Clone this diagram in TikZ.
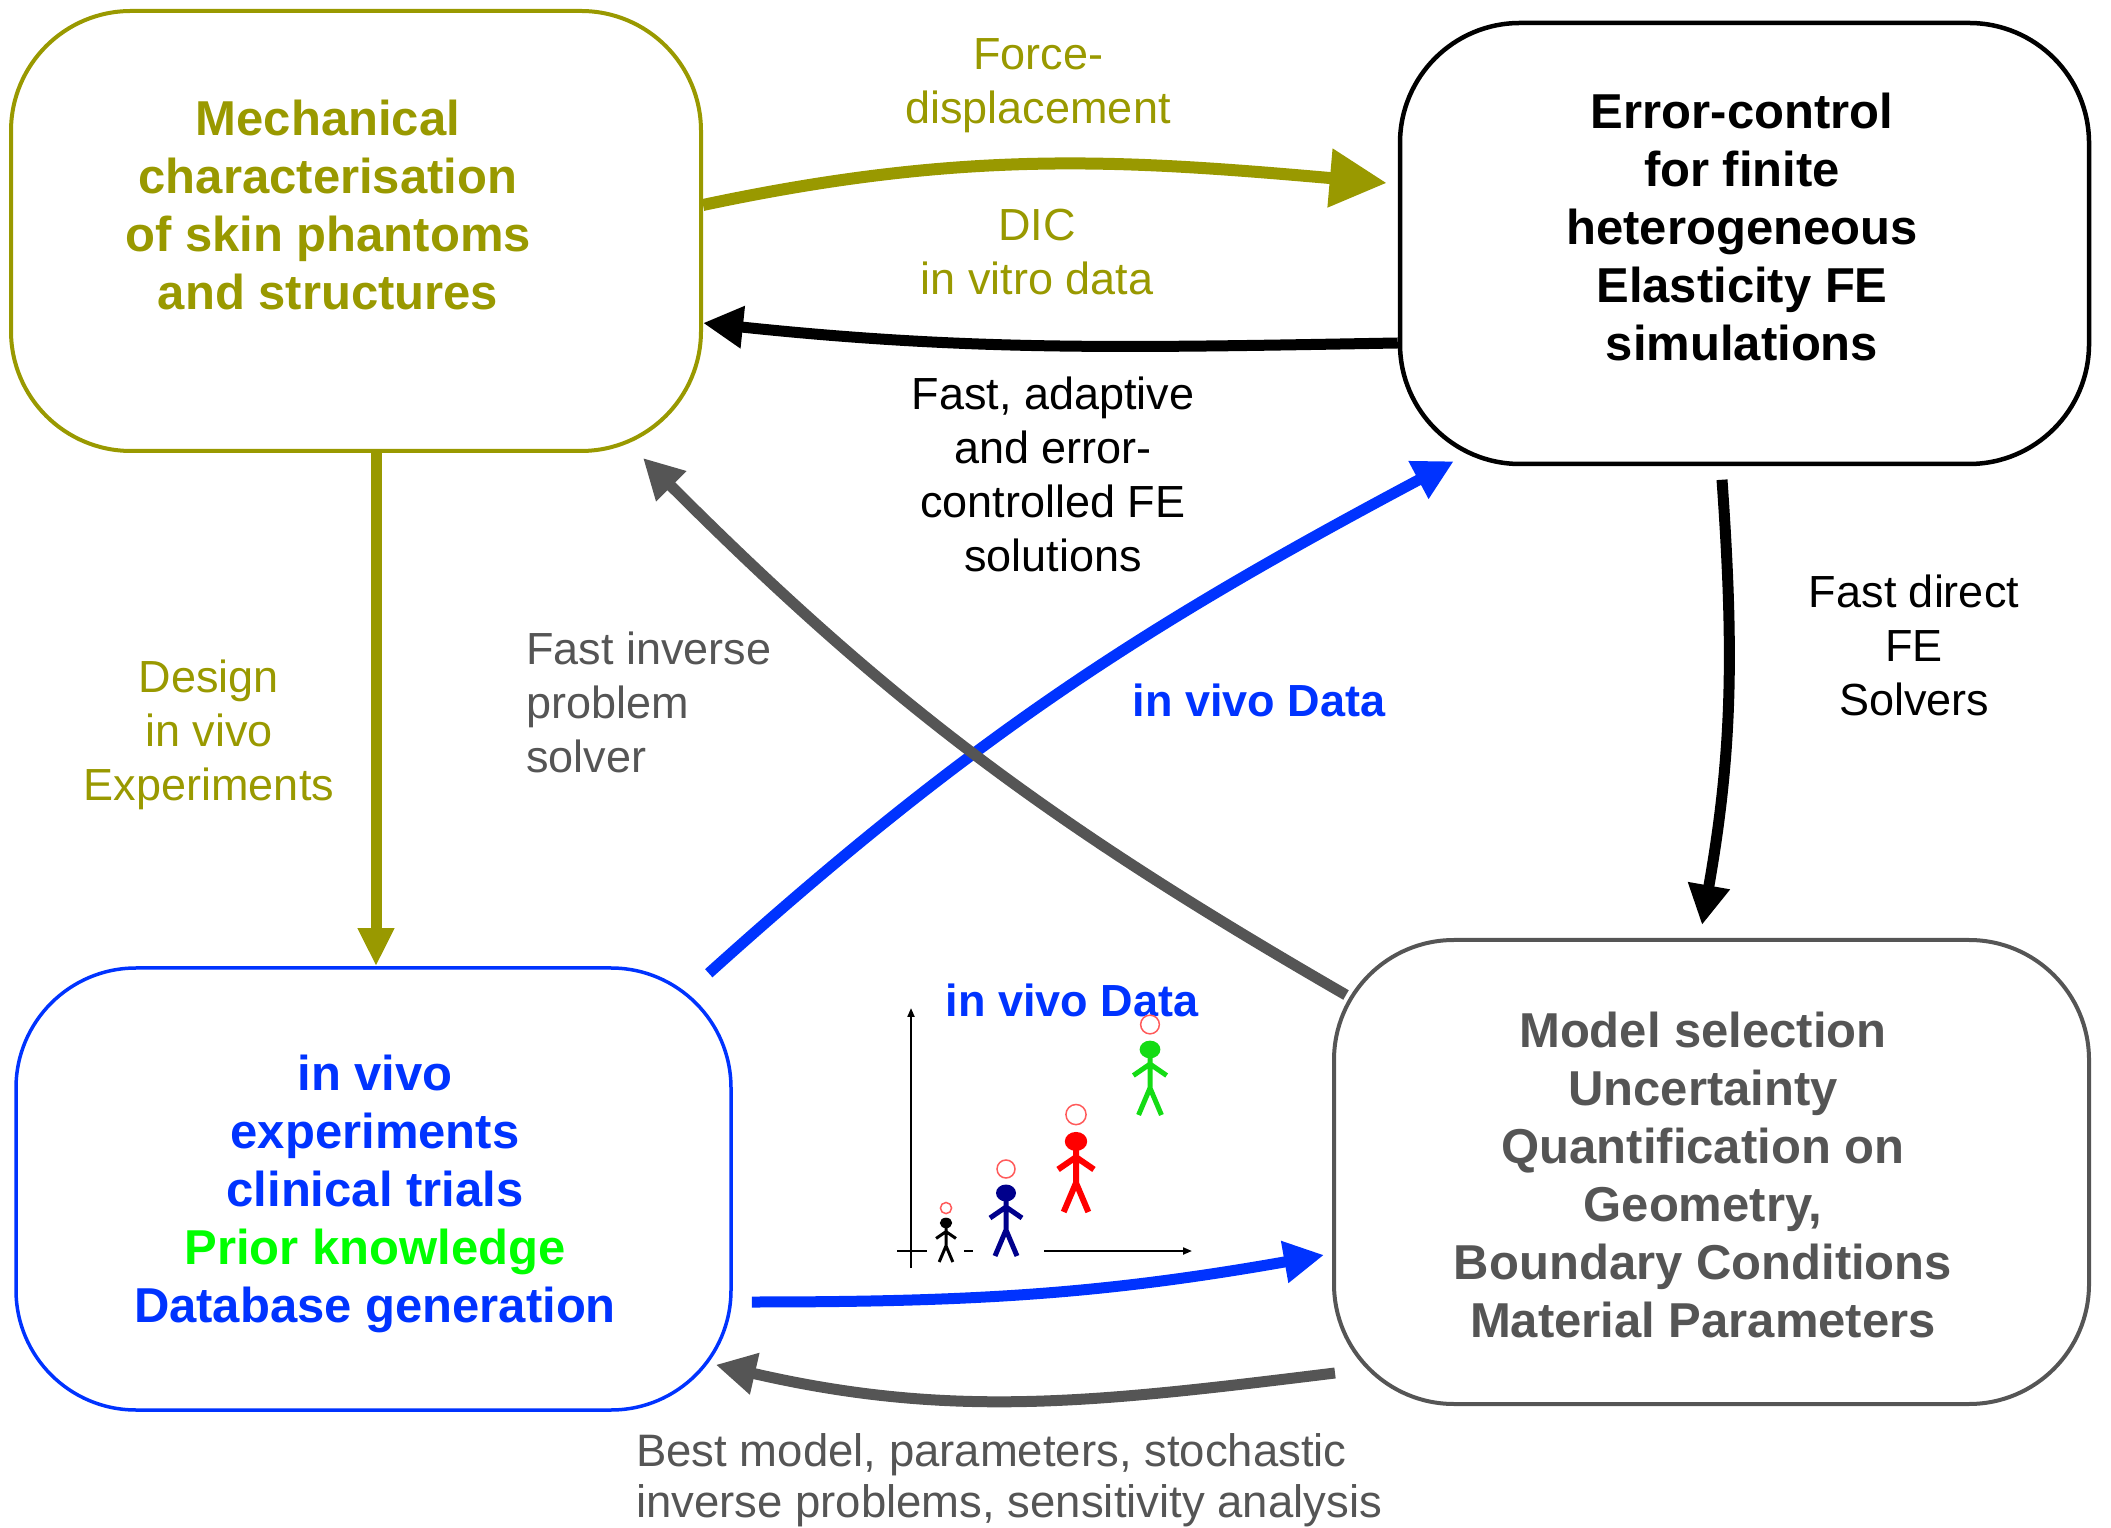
\documentclass[tikz,border=0pt]{standalone}
\usepackage{fontspec}
\setmainfont{Liberation Sans}
\usepackage{tikz}
\usetikzlibrary{arrows.meta}
\definecolor{mecholive}{RGB}{153,153,0}
\definecolor{vivoblue}{RGB}{0,51,255}
\definecolor{modelgrey}{RGB}{85,85,85}
\definecolor{priorgreen}{RGB}{0,255,0}
\definecolor{headnavy}{RGB}{0,0,140}
\definecolor{figgreen}{RGB}{20,220,20}
\definecolor{ringred}{RGB}{255,90,90}
% stick figure: feet x, feet y, scale, colour, line width
\newcommand{\stickfig}[5]{%
  \begin{scope}[shift={(#1,#2)}, scale=#3]
    \draw[#4, line width=#5] (-11,0) -- (0,26) -- (11,0) (0,26) -- (0,56)
      (-16,38) -- (0,49) -- (16,38);
    \fill[#4] (0,63) ellipse [x radius=10, y radius=8.5];
    \draw[ringred, line width=1.5pt] (0,87) circle [radius=9];
  \end{scope}}

\begin{document}
\begin{tikzpicture}[x=1pt, y=1pt,
  box/.style={rectangle, rounded corners=120pt, line width=4pt, inner sep=0pt},
  boxtext/.style={align=center, inner sep=0pt, font=\fontsize{49}{58}\selectfont\bfseries},
  lbl/.style={align=center, inner sep=0pt, font=\fontsize{45}{54}\selectfont},
  datalbl/.style={inner sep=0pt, text=vivoblue, font=\fontsize{45}{54}\selectfont\bfseries},
  arr/.style={line width=11pt, -{Triangle[length=40pt, width=40pt]}},
  axis/.style={line width=2pt}
]
\useasboundingbox (0,0) rectangle (2111,1527);

% the four blocks
\node[box, draw=mecholive, minimum width=690pt, minimum height=440pt] (mech) at (356,1296) {};
\node[box, draw=black, line width=4.5pt, minimum width=689pt, minimum height=441pt] (err) at (1744.5,1283.5) {};
\node[box, draw=vivoblue, line width=3.5pt, minimum width=715pt, minimum height=442pt] (vivo) at (373.5,338) {};
\node[box, draw=modelgrey, minimum width=755pt, minimum height=464pt] (model) at (1711.5,355) {};

\node[boxtext, text=mecholive] (mechtext) at (328,1322)
  {Mechanical\\characterisation\\of skin phantoms\\and structures};
\node[boxtext] (errtext) at (1742,1300)
  {Error-control\\for finite\\heterogeneous\\Elasticity FE\\simulations};
\node[boxtext, text=vivoblue] (vivotext) at (375,333)
  {in vivo\\experiments\\clinical trials\\\textcolor{priorgreen}{Prior knowledge}\\Database generation};
\node[boxtext, text=modelgrey] (modeltext) at (1703,352)
  {Model selection\\Uncertainty\\Quantification on\\Geometry,\\Boundary Conditions\\Material Parameters};

% connectors
\draw[arr, mecholive, line width=12pt, -{Triangle[length=57pt, width=56pt]}]
  ([yshift=26pt]mech.east) to[out=12, in=175] ([xshift=-11pt, yshift=60.5pt]err.west);
\draw[arr, black] ([yshift=-99.5pt]err.west) to[out=181, in=-6] ([yshift=-92pt]mech.east);
\draw[arr, black] ([xshift=-22.5pt, yshift=-13.5pt]err.south) to[out=-86, in=80]
  ([xshift=-9.5pt, yshift=13pt]model.north);
\draw[arr, mecholive, -{Triangle[length=38pt, width=34pt]}]
  ([xshift=20pt]mech.south) -- ([xshift=20pt]mech.south |- vivo.north);
\draw[arr, vivoblue] ([xshift=-24pt, yshift=-7pt]vivo.north east) to[out=42, in=-152]
  ([xshift=56pt, yshift=5pt]err.south west);
\draw[arr, modelgrey] ([xshift=14pt, yshift=-57pt]model.north west) to[out=150, in=-45]
  ([xshift=-60pt, yshift=-5pt]mech.south east);
\draw[arr, vivoblue] ([xshift=19pt, yshift=-113pt]vivo.east) to[out=0, in=190]
  ([xshift=-8pt, yshift=-83pt]model.west);
\draw[arr, modelgrey] ([xshift=3pt, yshift=33pt]model.south west) to[out=187, in=-13]
  ([xshift=-17pt, yshift=47pt]vivo.south east);

% labels
\node[lbl, text=mecholive] (forcelbl) at (1038,1441) {Force-\\displacement};
\node[lbl, text=mecholive] (diclbl) at (1037,1275) {DIC\\in vitro data};
\node[lbl] (fastlbl) at (1053,1053) {Fast, adaptive\\and error-\\controlled FE\\solutions};
\node[lbl] (directlbl) at (1914,881.5) {Fast direct\\FE\\Solvers};
\node[lbl, text=mecholive] (designlbl) at (209,792) {Design\\in vivo\\Experiments};
\node[lbl, text=modelgrey, align=left, anchor=west] (inverselbl) at (526,825)
  {Fast inverse\\problem\\solver};
\node[datalbl] (vivodata) at (1259,827) {in vivo Data};
\node[lbl, text=modelgrey, align=left, anchor=west, font=\fontsize{45.5}{51}\selectfont]
  (bestlbl) at (636,46.5) {Best model, parameters, stochastic\\inverse problems, sensitivity analysis};

% small chart of growing subjects
\node[datalbl] (chartlbl) at (1072,527) {in vivo Data};
\draw[axis, -{Triangle[length=9pt, width=7pt]}] (911,259) -- (911,519);
\draw[axis] (897,276) -- (927,276) (964,276) -- (973,276);
\draw[axis, -{Triangle[length=9pt, width=7pt]}] (1044,276) -- (1192,276);
\stickfig{946}{265}{0.62}{black}{3pt}
\stickfig{1006}{271}{1}{headnavy}{5pt}
\stickfig{1076}{315}{1.12}{red}{6pt}
\stickfig{1150}{412}{1.04}{figgreen}{5pt}
\end{tikzpicture}
\end{document}
